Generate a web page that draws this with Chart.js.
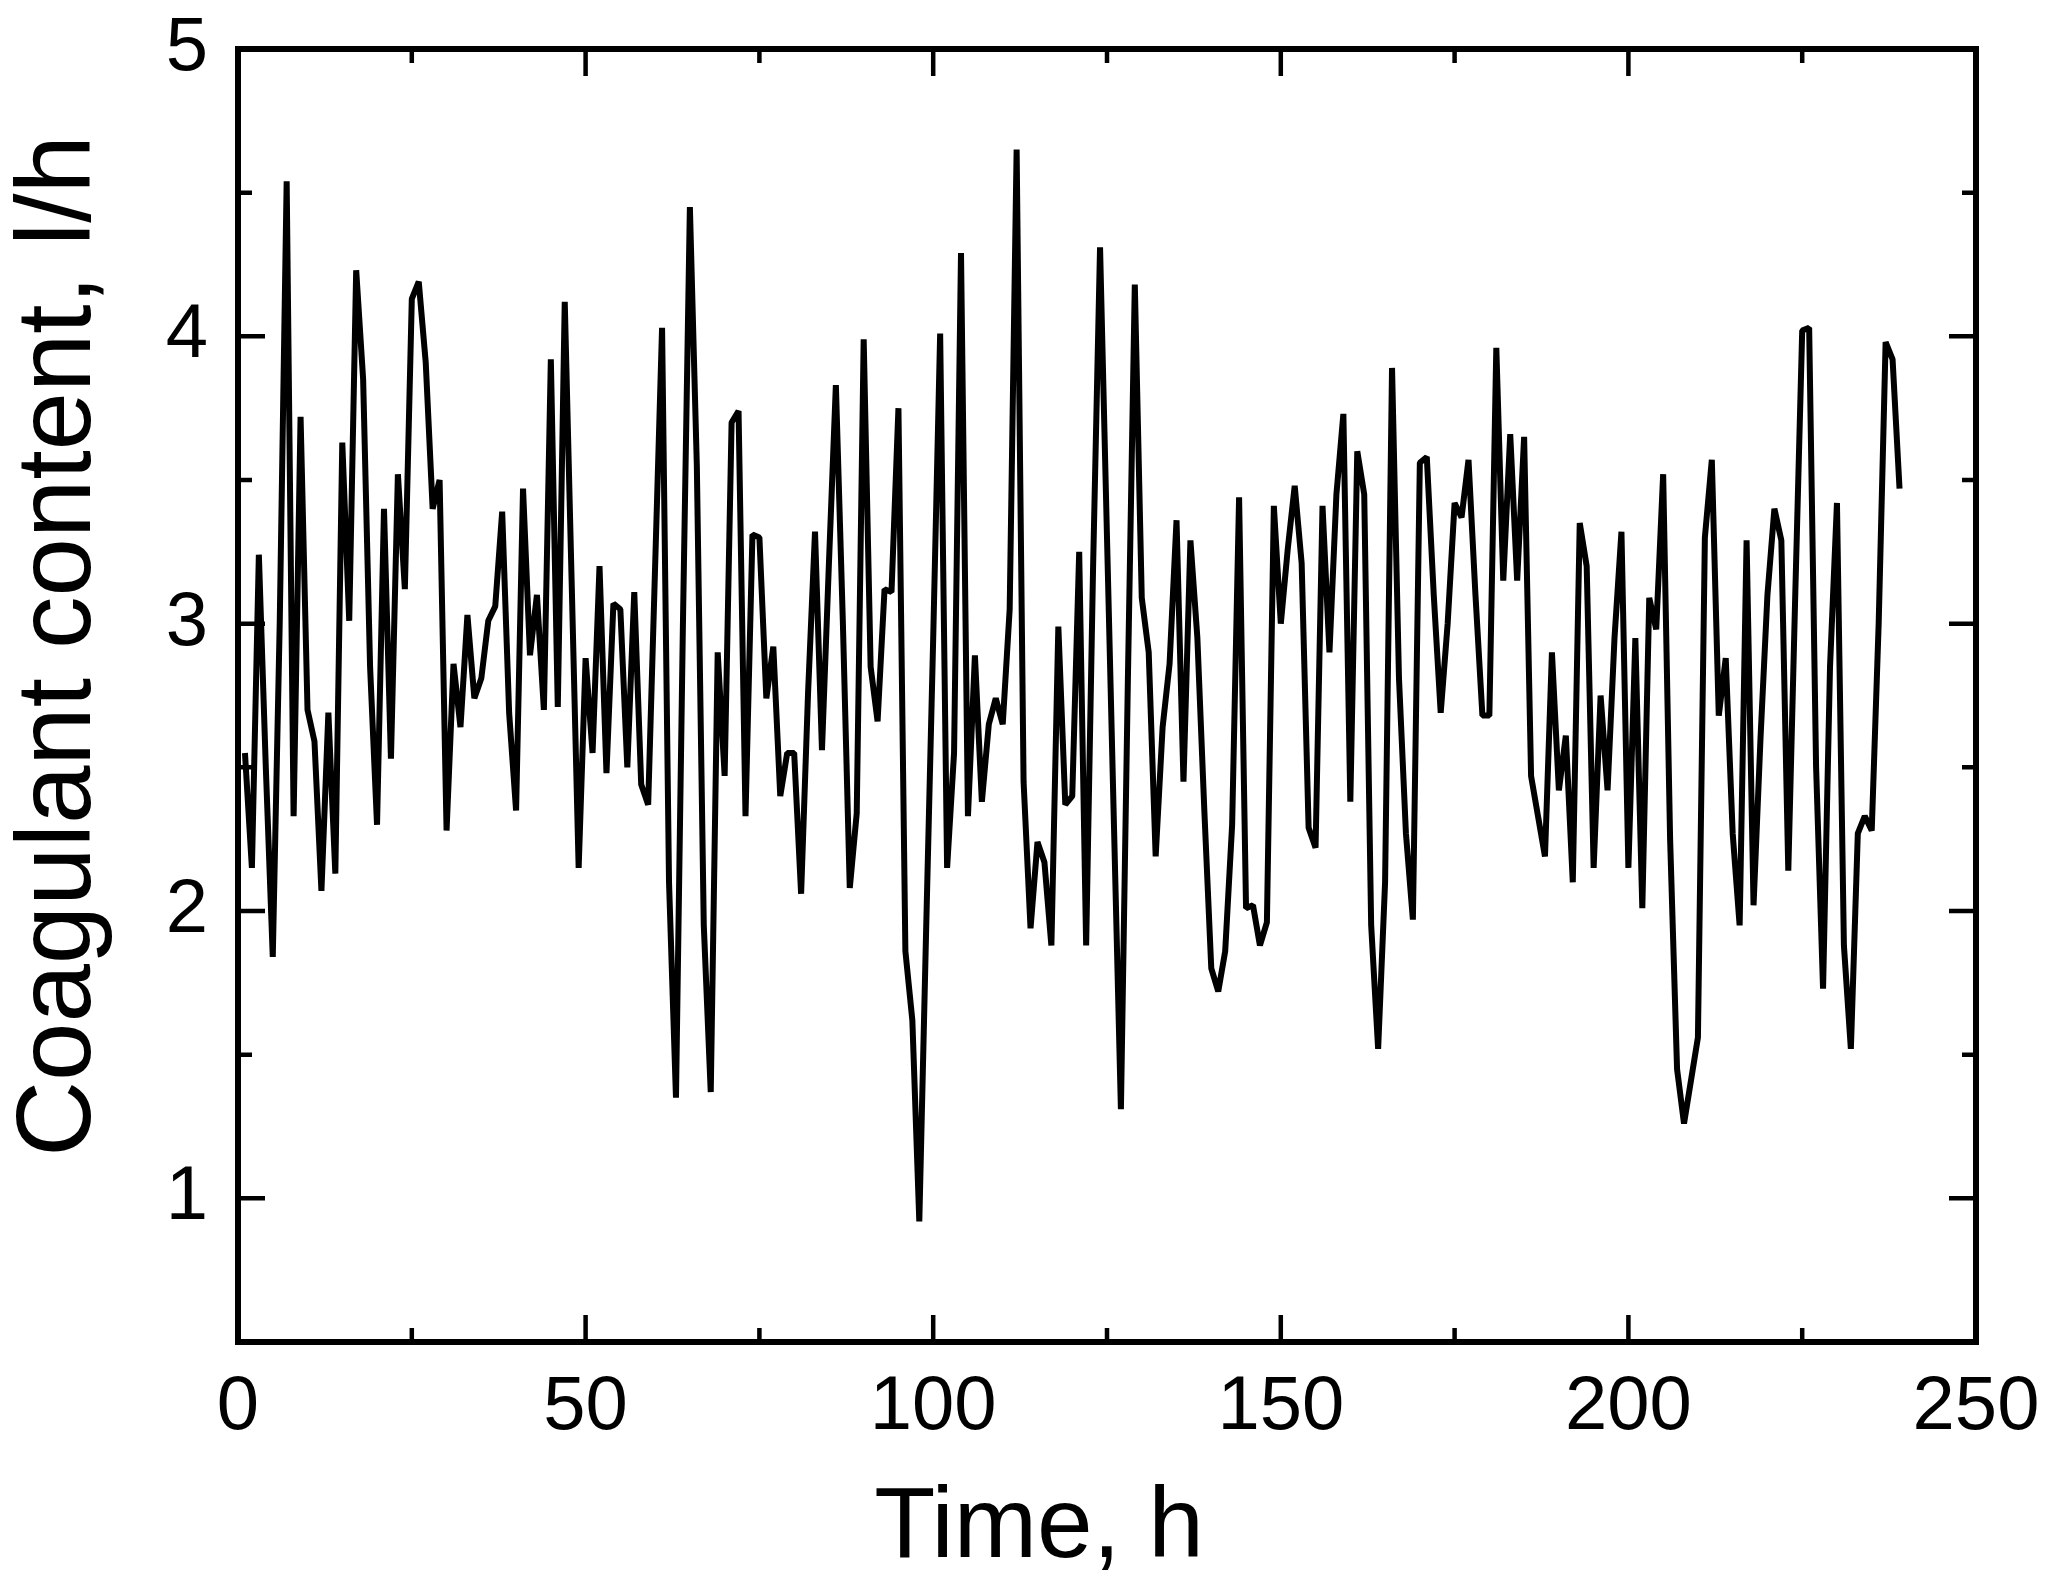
<!DOCTYPE html>
<html>
<head>
<meta charset="utf-8">
<title>Coagulant content</title>
<script src="https://cdn.jsdelivr.net/npm/chart.js@4.4.1/dist/chart.umd.min.js"></script>
<style>
  html, body { margin: 0; padding: 0; background: #ffffff; }
  #contenedor { width: 2051px; height: 1586px; }
</style>
</head>
<body>
<div id="contenedor"><canvas id="grafica"></canvas></div>
<script>
/* ===== DATA ===== */

const TIME_H = [
  1, 2, 3, 4, 5, 6, 7, 8, 9, 10, 11, 12, 13, 14, 15, 16, 17, 18, 19, 20,
  21, 22, 23, 24, 25, 26, 27, 28, 29, 30, 31, 32, 33, 34, 35, 36, 37, 38, 39, 40,
  41, 42, 43, 44, 45, 46, 47, 48, 49, 50, 51, 52, 53, 54, 55, 56, 57, 58, 59, 60,
  61, 62, 63, 64, 65, 66, 67, 68, 69, 70, 71, 72, 73, 74, 75, 76, 77, 78, 79, 80,
  81, 82, 83, 84, 85, 86, 87, 88, 89, 90, 91, 92, 93, 94, 95, 96, 97, 98, 99, 100,
  101, 102, 103, 104, 105, 106, 107, 108, 109, 110, 111, 112, 113, 114, 115, 116, 117, 118, 119, 120,
  121, 122, 123, 124, 125, 126, 127, 128, 129, 130, 131, 132, 133, 134, 135, 136, 137, 138, 139, 140,
  141, 142, 143, 144, 145, 146, 147, 148, 149, 150, 151, 152, 153, 154, 155, 156, 157, 158, 159, 160,
  161, 162, 163, 164, 165, 166, 167, 168, 169, 170, 171, 172, 173, 174, 175, 176, 177, 178, 179, 180,
  181, 182, 183, 184, 185, 186, 187, 188, 189, 190, 191, 192, 193, 194, 195, 196, 197, 198, 199, 200,
  201, 202, 203, 204, 205, 206, 207, 208, 209, 210, 211, 212, 213, 214, 215, 216, 217, 218, 219, 220,
  221, 222, 223, 224, 225, 226, 227, 228, 229, 230, 231, 232, 233, 234, 235, 236, 237, 238, 239
];

const COAGULANT_LH = [
  2.55, 2.15, 3.24, 2.50, 1.84, 3.00, 4.54, 2.33, 3.72, 2.70, 2.59, 2.07, 2.69, 2.13, 3.63, 3.01, 4.23, 3.85, 2.85, 2.30,
  3.40, 2.53, 3.52, 3.12, 4.13, 4.19, 3.91, 3.40, 3.50, 2.28, 2.86, 2.64, 3.03, 2.74, 2.81, 3.01, 3.06, 3.39, 2.69, 2.35,
  3.47, 2.89, 3.10, 2.70, 3.92, 2.71, 4.12, 3.14, 2.15, 2.88, 2.55, 3.20, 2.48, 3.07, 3.05, 2.50, 3.11, 2.44, 2.37, 3.20,
  4.03, 2.10, 1.35, 3.00, 4.45, 3.55, 1.95, 1.37, 2.90, 2.47, 3.70, 3.74, 2.33, 3.31, 3.30, 2.74, 2.92, 2.40, 2.55, 2.55,
  2.06, 2.76, 3.32, 2.56, 3.21, 3.83, 3.01, 2.08, 2.34, 3.99, 2.85, 2.66, 3.12, 3.11, 3.75, 1.86, 1.62, 0.92, 1.95, 2.95,
  4.01, 2.15, 2.55, 4.29, 2.33, 2.89, 2.38, 2.65, 2.74, 2.65, 3.05, 4.65, 2.45, 1.94, 2.24, 2.17, 1.88, 2.99, 2.37, 2.40,
  3.25, 1.88, 3.20, 4.31, 3.30, 2.30, 1.31, 2.80, 4.18, 3.09, 2.90, 2.19, 2.64, 2.86, 3.36, 2.45, 3.29, 2.95, 2.35, 1.80,
  1.72, 1.86, 2.30, 3.44, 2.01, 2.02, 1.88, 1.96, 3.41, 3.00, 3.26, 3.48, 3.21, 2.29, 2.22, 3.41, 2.90, 3.45, 3.73, 2.38,
  3.60, 3.45, 1.95, 1.52, 2.10, 3.89, 2.81, 2.27, 1.97, 3.56, 3.58, 3.10, 2.69, 3.00, 3.42, 3.37, 3.57, 3.10, 2.68, 2.68,
  3.96, 3.15, 3.66, 3.15, 3.65, 2.47, 2.33, 2.19, 2.90, 2.42, 2.61, 2.10, 3.35, 3.20, 2.15, 2.75, 2.42, 2.95, 3.32, 2.15,
  2.95, 2.01, 3.09, 2.98, 3.52, 2.25, 1.45, 1.26, 1.41, 1.56, 3.30, 3.57, 2.68, 2.88, 2.27, 1.95, 3.29, 2.02, 2.60, 3.10,
  3.40, 3.29, 2.14, 3.10, 4.02, 4.03, 2.50, 1.73, 2.85, 3.42, 1.88, 1.52, 2.27, 2.33, 2.28, 3.00, 3.98, 3.92, 3.47
];

const X_MAJOR = [0, 50, 100, 150, 200, 250];
const X_MINOR = [25, 75, 125, 175, 225];
const Y_MAJOR = [1, 2, 3, 4, 5];
const Y_MINOR = [0.5, 1.5, 2.5, 3.5, 4.5];

const X_TITLE = "Time, h";
const Y_TITLE = "Coagulant content, l/h";

/* ===== STYLE ===== */

const FUENTE = "'Liberation Sans', Arial, sans-serif";
Chart.defaults.font.family = FUENTE;
Chart.defaults.color = "#000000";

/* ===== FRAME, INWARD TICKS AND AXIS TITLES ===== */

const marcoPlugin = {
  id: "marco",
  afterDatasetsDraw(chart) {
    const { ctx, chartArea: a, scales } = chart;
    const sx = scales.x, sy = scales.y;
    ctx.save();
    ctx.strokeStyle = "#000000";
    ctx.lineCap = "butt";

    ctx.lineWidth = 4.5;
    function tickX(v, len) {
      const px = sx.getPixelForValue(v);
      ctx.beginPath();
      ctx.moveTo(px, a.bottom); ctx.lineTo(px, a.bottom - len);
      ctx.moveTo(px, a.top);    ctx.lineTo(px, a.top + len);
      ctx.stroke();
    }
    function tickY(v, len) {
      const py = sy.getPixelForValue(v);
      ctx.beginPath();
      ctx.moveTo(a.left, py);  ctx.lineTo(a.left + len, py);
      ctx.moveTo(a.right, py); ctx.lineTo(a.right - len, py);
      ctx.stroke();
    }
    X_MAJOR.forEach(function(v) { tickX(v, 27); });
    X_MINOR.forEach(function(v) { tickX(v, 14); });
    Y_MAJOR.forEach(function(v) { tickY(v, 27); });
    Y_MINOR.forEach(function(v) { tickY(v, 14); });

    ctx.lineWidth = 6;
    ctx.lineJoin = "miter";
    ctx.strokeRect(a.left, a.top, a.right - a.left, a.bottom - a.top);
    ctx.restore();
  },
  afterDraw(chart) {
    const { ctx } = chart;
    ctx.save();
    ctx.fillStyle = "#000000";
    ctx.textAlign = "center";
    ctx.textBaseline = "alphabetic";

    ctx.font = "100px " + FUENTE;
    ctx.fillText(X_TITLE, 1039, 1557);

    ctx.font = "105px " + FUENTE;
    ctx.translate(90, 646);
    ctx.rotate(-Math.PI / 2);
    ctx.fillText(Y_TITLE, 0, 0);
    ctx.restore();
  }
};

/* sin relleno extra de las etiquetas: el área queda fija por el layout */
function sinRelleno(s) {
  s.paddingTop = 0;
  s.paddingBottom = 0;
  s.paddingLeft = 0;
  s.paddingRight = 0;
}

/* ===== CHART ===== */

function inicializarGrafica() {
  const lienzo = document.getElementById("grafica");

  new Chart(lienzo, {
    type: "line",
    data: {
      datasets: [
        {
          label: Y_TITLE,
          data: TIME_H.map(function(h, i) { return { x: h, y: COAGULANT_LH[i] }; }),
          borderColor: "#000000",
          borderWidth: 6,
          borderJoinStyle: "bevel",
          pointRadius: 0,
          tension: 0,
          fill: false,
        },
      ],
    },
    options: {
      responsive: true,
      maintainAspectRatio: false,
      devicePixelRatio: 1,
      animation: false,
      layout: { padding: { top: 49, right: 75, left: 0, bottom: 0 } },
      plugins: {
        legend: { display: false },
        tooltip: { enabled: false },
      },
      scales: {
        x: {
          type: "linear",
          min: 0,
          max: 250,
          afterBuildTicks: function(s) { s.ticks = X_MAJOR.map(function(v) { return { value: v }; }); },
          afterFit: function(s) { s.height = 244; sinRelleno(s); },
          grid: { display: false, drawTicks: false },
          border: { display: false },
          ticks: { font: { size: 76 }, color: "#000000", padding: 20, maxRotation: 0 },
        },
        y: {
          type: "linear",
          min: 0.5,
          max: 5,
          afterBuildTicks: function(s) { s.ticks = Y_MAJOR.map(function(v) { return { value: v }; }); },
          afterFit: function(s) { s.width = 238; sinRelleno(s); },
          grid: { display: false, drawTicks: false },
          border: { display: false },
          ticks: { font: { size: 76 }, color: "#000000", padding: 30 },
        },
      },
    },
    plugins: [marcoPlugin],
  });
}

inicializarGrafica();
</script>
</body>
</html>
